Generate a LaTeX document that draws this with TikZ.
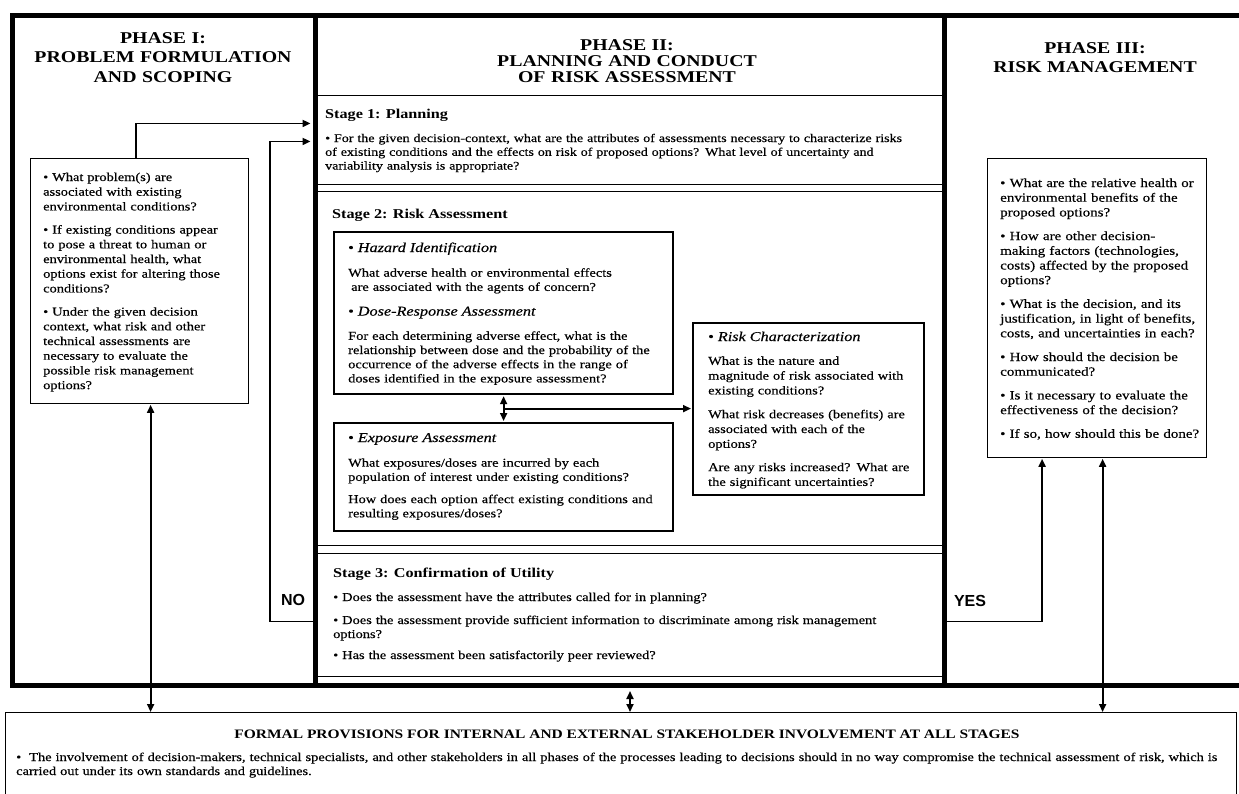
\documentclass[tikz,border=0pt]{standalone}
\usepackage{fontspec}
\setmainfont{Liberation Serif}[FakeStretch=1.2,UprightFeatures={FakeBold=0.4},ItalicFeatures={FakeBold=0.4}]
\newfontfamily\yesnofont{Liberation Sans}
\usetikzlibrary{arrows.meta,calc}
\newcommand{\fsz}[2]{\fontsize{#1}{#2}\selectfont}
\newcommand{\subhead}[1]{{\fsz{13.5}{14.5}\textbullet\ \textit{#1}}}

\begin{document}
\begin{tikzpicture}[x=1pt,y=-1pt,>={Triangle[length=8pt,width=7pt]},
		phase/.style={draw,line width=5pt,anchor=north west,inner sep=0pt},
		stagebox/.style={draw,line width=0.9pt,anchor=north west,inner sep=0pt},
		qbox/.style={draw,line width=1.2pt,anchor=north west,inner sep=0pt},
		abox/.style={draw,line width=2.2pt,anchor=north west,inner sep=0pt},
		head/.style={anchor=base,align=center,inner sep=0pt,font=\fsz{16.5}{19.5}\bfseries},
		body/.style={anchor=base west,align=left,inner sep=0pt},
		stagetitle/.style={anchor=base west,inner sep=0pt,font=\fsz{13.5}{15}\bfseries},
		conn/.style={line width=1.8pt},
		yesno/.style={inner sep=0pt,font=\yesnofont\bfseries\fsz{16}{16}}]
	\useasboundingbox (0,0) rectangle (1239,793);

	\node[phase,minimum width=303pt,minimum height=670pt] (ph1) at (10,13) {};
	\node[phase,minimum width=629pt,minimum height=670pt] (ph2) at (313,13) {};
	\node[phase,minimum width=310pt,minimum height=670pt] (ph3) at (942,13) {};

	\node[stagebox,minimum width=629pt,minimum height=89pt] (s1) at (313,95) {};
	\node[stagebox,minimum width=629pt,minimum height=354pt] (s2) at (313,191) {};
	\node[stagebox,minimum width=629pt,minimum height=123pt] (s3) at (313,553) {};

	\node[qbox,minimum width=218pt,minimum height=245pt] (probbox) at (30,158) {};
	\node[qbox,minimum width=219pt,minimum height=299pt] (mgmtbox) at (987,158) {};
	\node[abox,minimum width=339pt,minimum height=162pt] (hazbox) at (333,231) {};
	\node[abox,minimum width=339pt,minimum height=108pt] (expbox) at (333,422) {};
	\node[abox,minimum width=231pt,minimum height=172pt] (charbox) at (692,322) {};
	\node[qbox,minimum width=1231pt,minimum height=100pt] (stakebox) at (5,712) {};

	\node[head,text width=290pt] (h1) at (163,43) {PHASE I:\\PROBLEM FORMULATION\\AND SCOPING};
	\node[head,text width=600pt,font=\fsz{16.5}{16}\bfseries] (h2) at (627,50) {PHASE II:\\PLANNING AND CONDUCT\\OF RISK ASSESSMENT};
	\node[head,text width=290pt] (h3) at (1095,53) {PHASE III:\\RISK MANAGEMENT};

	\node[body,text width=215pt,font=\fsz{12}{14.7}] (probtxt) at (43,181) {\textbullet\ What problem(s) are\\
		associated with existing\\
		environmental conditions?\\[8.5pt]
		\textbullet\ If existing conditions appear\\
		to pose a threat to human or\\
		environmental health, what\\
		options exist for altering those\\
		conditions?\\[8.5pt]
		\textbullet\ Under the given decision\\
		context, what risk and other\\
		technical assessments are\\
		necessary to evaluate the\\
		possible risk management\\
		options?};

	\node[stagetitle] (s1title) at (325,118) {Stage 1: Planning};
	\node[body,text width=612pt,font=\fsz{11.7}{13.8}] (s1txt) at (325,142) {\textbullet\ For the given decision-context, what are the attributes of assessments necessary to characterize risks\\
		of existing conditions and the effects on risk of proposed options? What level of uncertainty and\\
		variability analysis is appropriate?};

	\node[stagetitle] (s2title) at (332,218) {Stage 2: Risk Assessment};
	\node[body,text width=320pt,font=\fsz{12}{14.2}] (haztxt) at (348,252) {\subhead{Hazard Identification}\\[10.5pt]
		What adverse health or environmental effects\\
		\hspace*{3pt}are associated with the agents of concern?\\[10.5pt]
		\subhead{Dose-Response Assessment}\\[10pt]
		For each determining adverse effect, what is the\\
		relationship between dose and the probability of the\\
		occurrence of the adverse effects in the range of\\
		doses identified in the exposure assessment?};
	\node[body,text width=320pt,font=\fsz{12}{14.2}] (exptxt) at (348,442) {\subhead{Exposure Assessment}\\[10.5pt]
		What exposures/doses are incurred by each\\
		population of interest under existing conditions?\\[8pt]
		How does each option affect existing conditions and\\
		resulting exposures/doses?};
	\node[body,text width=212pt,font=\fsz{12}{14.8}] (chartxt) at (708,341) {\subhead{Risk Characterization}\\[9pt]
		What is the nature and\\
		magnitude of risk associated with\\
		existing conditions?\\[9pt]
		What risk decreases (benefits) are\\
		associated with each of the\\
		options?\\[8.5pt]
		Are any risks increased? What are\\
		the significant uncertainties?};

	\node[stagetitle] (s3title) at (333,577) {Stage 3: Confirmation of Utility};
	\node[body,text width=600pt,font=\fsz{12}{14}] (s3txt) at (333,601) {\textbullet\ Does the assessment have the attributes called for in planning?\\[9pt]
		\textbullet\ Does the assessment provide sufficient information to discriminate among risk management\\
		options?\\[7pt]
		\textbullet\ Has the assessment been satisfactorily peer reviewed?};

	\node[body,text width=215pt,font=\fsz{12.5}{14.7}] (mgmttxt) at (1000,187) {\textbullet\ What are the relative health or\\
		environmental benefits of the\\
		proposed options?\\[9pt]
		\textbullet\ How are other decision-\\
		making factors (technologies,\\
		costs) affected by the proposed\\
		options?\\[9pt]
		\textbullet\ What is the decision, and its\\
		justification, in light of benefits,\\
		costs, and uncertainties in each?\\[9pt]
		\textbullet\ How should the decision be\\
		communicated?\\[9pt]
		\textbullet\ Is it necessary to evaluate the\\
		effectiveness of the decision?\\[9pt]
		\textbullet\ If so, how should this be done?};

	\node[anchor=base,inner sep=0pt,font=\fsz{12.9}{14}\bfseries] (staketitle) at (627,738) {FORMAL PROVISIONS FOR INTERNAL AND EXTERNAL STAKEHOLDER INVOLVEMENT AT ALL STAGES};
	\node[body,text width=1225pt,font=\fsz{12}{14}] (staketxt) at (16,761) {\textbullet\ \ The involvement of decision-makers, technical specialists, and other stakeholders in all phases of the processes leading to decisions should in no way compromise the technical assessment of risk, which is\\
		carried out under its own standards and guidelines.};

	\node[yesno] (no) at (293,600) {NO};
	\node[yesno] (yes) at (970,601) {YES};

	\draw[conn,->,shorten >=2.5pt] ([xshift=-4pt]probbox.north) |- ([yshift=16.5pt]s1.west);
	\draw[conn,->,shorten >=2.5pt] ([yshift=-6.5pt]s3.west) -- ++(-43,0) |- ([yshift=-1.5pt]s1.west);
	\draw[conn,->,shorten >=0.6pt] ([yshift=-6.5pt]s3.east) -| ([xshift=-55pt]mgmtbox.south);
	\draw[conn,<->,shorten <=1pt,shorten >=1pt] (hazbox.south) -- (expbox.north);
	\coordinate (hzmid) at ($(hazbox.south)!0.5!(expbox.north)$);
	\draw[conn,->,shorten >=1pt] (hzmid) -- (hzmid -| charbox.west);
	\draw[conn,<->,shorten <=0.6pt] ([xshift=11pt]probbox.south) -- ([xshift=11pt]probbox.south |- stakebox.north);
	\draw[conn,<->,shorten <=0.6pt] ([xshift=5.5pt]mgmtbox.south) -- ([xshift=5.5pt]mgmtbox.south |- stakebox.north);
	\draw[conn,<->] ([yshift=-3pt]ph2.south) -- (ph2.south |- stakebox.north);
\end{tikzpicture}
\end{document}
